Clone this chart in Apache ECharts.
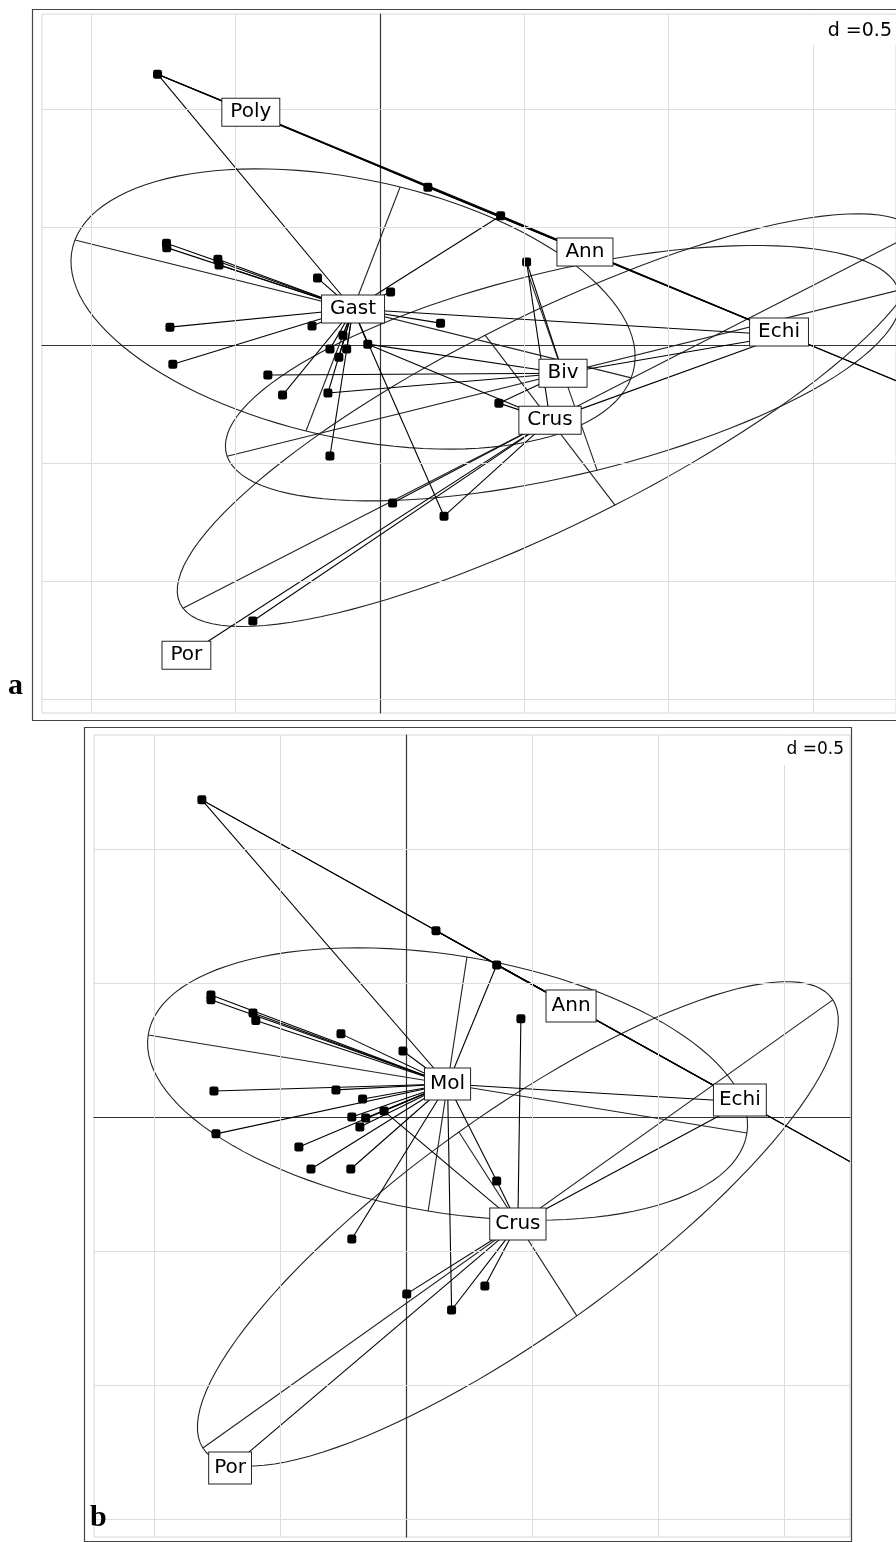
<!DOCTYPE html>
<html>
<head>
<meta charset="utf-8">
<title>s.class a / b</title>
<script src="https://cdn.jsdelivr.net/npm/echarts@6/dist/echarts.min.js"></script>
<style>
html,body{margin:0;padding:0;background:#fff;}
#chart{width:896px;height:1542px;}
</style>
</head>
<body>
<div id="chart"></div>
<script>
// grid lines every 0.5 (d = 0.5), zero lines come from the axes
var gridX = [-1, -0.5, 0.5, 1, 1.5];
var gridY = [-1.5, -1, -0.5, 0.5, 1];

// ---- panel a ----
// sites (last three sit under labels / off the frame)
var sitesA = [
  [-0.770, 1.148], [0.166, 0.669], [0.418, 0.548], [-0.739, 0.432], [-0.738, 0.413],
  [-0.561, 0.364], [-0.557, 0.339], [-0.216, 0.284], [0.037, 0.225], [-0.727, 0.076],
  [-0.235, 0.081], [0.210, 0.093], [-0.128, 0.042], [-0.042, 0.004], [-0.173, -0.017],
  [-0.115, -0.017], [-0.142, -0.051], [-0.717, -0.081], [-0.388, -0.127], [-0.337, -0.212],
  [-0.180, -0.203], [-0.173, -0.470], [0.508, 0.352], [0.412, -0.246], [0.044, -0.669],
  [0.222, -0.725], [-0.440, -1.169], [1.402, 0.042], [-0.670, -1.314], [2.2, -0.360]
];
var classesA = ['Poly', 'Gast', 'Ann', 'Echi', 'Biv', 'Crus', 'Por'];
var centersA = [
  [-0.447, 0.987], [-0.093, 0.153], [0.710, 0.394], [1.382, 0.055],
  [0.634, -0.119], [0.589, -0.318], [-0.670, -1.314]
];
var membersA = [
  [0, 1, 2],
  [0, 2, 3, 4, 5, 6, 7, 8, 9, 10, 11, 12, 13, 14, 15, 16, 17, 19, 20, 21, 25, 27],
  [0, 1, 2, 29],
  [0, 1, 2, 29],
  [13, 18, 20, 22, 23, 27],
  [13, 22, 23, 24, 25, 26, 27, 28],
  [28]
];
// ellipses: class index, first half axis (x, y), second half axis (x, y)
var ellipsesA = [
  [1, -0.963, 0.292, 0.163, 0.517],
  [4, -1.163, -0.352, 0.118, -0.411],
  [5, -1.271, -0.797, 0.225, -0.360]
];

// ---- panel b ----
var sitesB = [
  [-0.810, 1.183], [0.119, 0.695], [0.360, 0.567], [-0.774, 0.455], [-0.774, 0.437],
  [-0.607, 0.388], [-0.596, 0.360], [-0.258, 0.310], [-0.012, 0.246], [-0.762, 0.097],
  [-0.278, 0.101], [0.170, 0.120], [-0.172, 0.067], [-0.087, 0.022], [-0.215, 0.000],
  [-0.160, -0.004], [-0.183, -0.037], [-0.754, -0.063], [-0.425, -0.112], [-0.377, -0.194],
  [-0.219, -0.194], [-0.215, -0.455], [0.456, 0.366], [0.360, -0.239], [0.003, -0.660],
  [0.181, -0.720], [0.313, -0.631], [1.345, 0.056], [-0.698, -1.310], [2.2, -0.396]
];
var classesB = ['Mol', 'Ann', 'Echi', 'Crus', 'Por'];
var centersB = [
  [0.165, 0.123], [0.655, 0.414], [1.325, 0.063], [0.444, -0.399], [-0.698, -1.310]
];
var membersB = [
  [0, 2, 3, 4, 5, 6, 7, 8, 9, 10, 11, 12, 13, 14, 15, 16, 17, 18, 19, 20, 21, 23, 25, 27],
  [0, 1, 2, 29],
  [0, 1, 2, 29],
  [13, 22, 23, 24, 25, 26, 27, 28],
  [28]
];
var ellipsesB = [
  [0, -1.188, 0.183, 0.077, 0.474],
  [3, -1.250, -0.836, 0.234, -0.343]
];

var font = '"DejaVu Sans", sans-serif';

function starSegments(centers, members, sites) {
  var segs = [];
  members.forEach(function (list, c) {
    list.forEach(function (s) {
      segs.push([centers[c][0], centers[c][1], sites[s][0], sites[s][1]]);
    });
  });
  return segs;
}

function ellipseItems(ellipses, centers) {
  return ellipses.map(function (e) {
    var c = centers[e[0]];
    return [c[0], c[1], e[1], e[2], e[3], e[4]];
  });
}

function drawSegment(params, api) {
  var p1 = api.coord([api.value(0), api.value(1)]);
  var p2 = api.coord([api.value(2), api.value(3)]);
  return {
    type: 'line',
    shape: {x1: p1[0], y1: p1[1], x2: p2[0], y2: p2[1]},
    style: {stroke: '#000', lineWidth: 1.1}
  };
}

function drawEllipse(params, api) {
  var cx = api.value(0), cy = api.value(1);
  var ux = api.value(2), uy = api.value(3), vx = api.value(4), vy = api.value(5);
  var pts = [];
  for (var k = 0; k <= 120; k++) {
    var t = k / 120 * Math.PI * 2;
    pts.push(api.coord([cx + Math.cos(t) * ux + Math.sin(t) * vx, cy + Math.cos(t) * uy + Math.sin(t) * vy]));
  }
  var st = {stroke: '#222', lineWidth: 1.1, fill: null};
  var a1 = api.coord([cx - ux, cy - uy]), a2 = api.coord([cx + ux, cy + uy]);
  var b1 = api.coord([cx - vx, cy - vy]), b2 = api.coord([cx + vx, cy + vy]);
  return {
    type: 'group',
    children: [
      {type: 'polyline', shape: {points: pts}, style: st},
      {type: 'line', shape: {x1: a1[0], y1: a1[1], x2: a2[0], y2: a2[1]}, style: st},
      {type: 'line', shape: {x1: b1[0], y1: b1[1], x2: b2[0], y2: b2[1]}, style: st}
    ]
  };
}

function panelSeries(idx, sites, classes, centers, members, ellipses, labelPad) {
  return [
    {
      type: 'scatter', xAxisIndex: idx, yAxisIndex: idx, data: [[0, 0]], symbolSize: 0,
      silent: true, z: 1,
      markLine: {
        silent: true, symbol: 'none', animation: false,
        label: {show: false},
        lineStyle: {color: '#dddddd', width: 1, type: 'solid', opacity: 1},
        data: gridX.map(function (v) { return {xAxis: v}; })
          .concat(gridY.map(function (v) { return {yAxis: v}; }))
      }
    },
    {
      type: 'custom', xAxisIndex: idx, yAxisIndex: idx, clip: true, silent: true, z: 2,
      renderItem: drawEllipse, data: ellipseItems(ellipses, centers)
    },
    {
      type: 'custom', xAxisIndex: idx, yAxisIndex: idx, clip: true, silent: true, z: 3,
      renderItem: drawSegment, data: starSegments(centers, members, sites)
    },
    {
      type: 'scatter', xAxisIndex: idx, yAxisIndex: idx, silent: true, z: 4,
      symbol: 'roundRect', symbolSize: 9,
      itemStyle: {color: '#000', opacity: 1},
      data: sites
    },
    {
      type: 'scatter', xAxisIndex: idx, yAxisIndex: idx, silent: true, z: 5,
      symbolSize: 0,
      itemStyle: {opacity: 1},
      label: {
        show: true, position: 'inside', formatter: '{b}',
        fontFamily: font, fontSize: 20, lineHeight: 23, color: '#000', opacity: 1,
        backgroundColor: '#fff', borderColor: '#222', borderWidth: 1,
        padding: labelPad
      },
      data: centers.map(function (c, i) { return {name: classes[i], value: c}; })
    }
  ];
}

function axisPair(idx, min, max) {
  return {
    gridIndex: idx, type: 'value', min: min, max: max,
    axisLine: {show: true, onZero: true, lineStyle: {color: '#333', width: 1.2}},
    axisTick: {show: false}, axisLabel: {show: false}, splitLine: {show: false}
  };
}

var chart = echarts.init(document.getElementById('chart'), null, {renderer: 'canvas'});
chart.setOption({
  animation: false,
  backgroundColor: '#fff',
  grid: [
    {left: 42, top: 14, width: 854, height: 699, show: true, borderColor: '#d8d8d8', borderWidth: 1},
    {left: 94, top: 735, width: 756, height: 802, show: true, borderColor: '#d8d8d8', borderWidth: 1}
  ],
  xAxis: [axisPair(0, -1.170, 1.787), axisPair(1, -1.238, 1.762)],
  yAxis: [axisPair(0, -1.559, 1.403), axisPair(1, -1.567, 1.425)],
  series: panelSeries(0, sitesA, classesA, centersA, membersA, ellipsesA, [2, 8])
    .concat(panelSeries(1, sitesB, classesB, centersB, membersB, ellipsesB, [4, 5])),
  graphic: [
    {type: 'rect', shape: {x: 32.5, y: 9.5, width: 900, height: 711}, style: {fill: null, stroke: '#444', lineWidth: 1.2}, z: 20},
    {type: 'rect', shape: {x: 84.5, y: 727.5, width: 767, height: 814}, style: {fill: null, stroke: '#444', lineWidth: 1.2}, z: 20},
    {type: 'rect', shape: {x: 806, y: 15, width: 90, height: 30}, style: {fill: '#fff'}, z: 10},
    {type: 'text', x: 892, y: 31, style: {text: 'd =0.5', fill: '#000', font: '19px ' + font, textAlign: 'right', textVerticalAlign: 'middle'}, z: 11},
    {type: 'rect', shape: {x: 772, y: 736, width: 77, height: 29}, style: {fill: '#fff'}, z: 10},
    {type: 'text', x: 844, y: 750, style: {text: 'd =0.5', fill: '#000', font: '17px ' + font, textAlign: 'right', textVerticalAlign: 'middle'}, z: 11},
    {type: 'text', x: 8, y: 701, style: {text: 'a', fill: '#000', font: 'bold 30px "Liberation Serif", serif', textVerticalAlign: 'bottom'}, z: 11},
    {type: 'text', x: 90, y: 1533, style: {text: 'b', fill: '#000', font: 'bold 30px "Liberation Serif", serif', textVerticalAlign: 'bottom'}, z: 11}
  ]
});
</script>
</body>
</html>
